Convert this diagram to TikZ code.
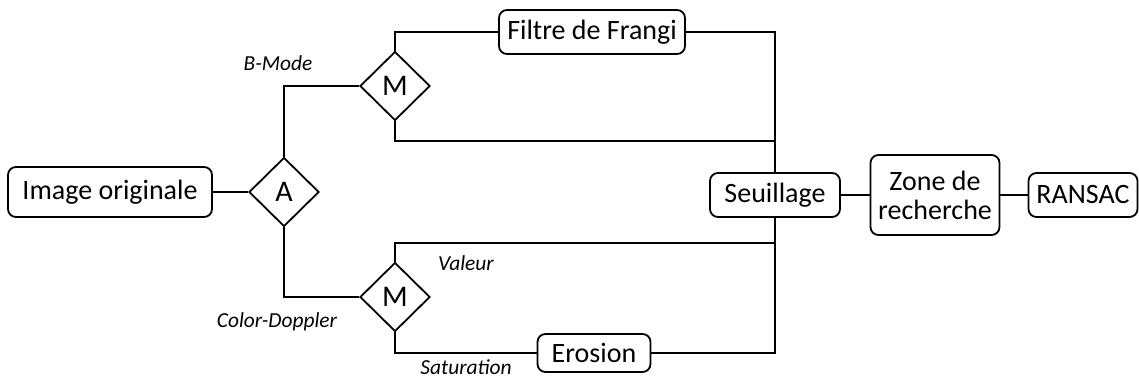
\documentclass[tikz,border=0pt]{standalone}
\usepackage{fontspec}
\setmainfont{Carlito}
\usetikzlibrary{shapes.geometric}
\tikzset{wire/.style={line width=1.1pt},
  proc/.style={draw, line width=0.9pt, rounded corners=4pt, fill=white, inner sep=2pt, align=center, font=\fontsize{14}{14.5}\selectfont},
  dec/.style={draw, diamond, line width=0.9pt, aspect=1, inner sep=0pt, minimum width=35pt, minimum height=34.5pt, font=\fontsize{15}{16}\selectfont},
  lbl/.style={font=\fontsize{10.7}{12}\selectfont\itshape, inner sep=0pt}}

\begin{document}
\begin{tikzpicture}[x=0.5pt,y=-0.5pt]
  \useasboundingbox (0,0) rectangle (1139,385);
  % blocs
  \node[proc, minimum width=102pt, minimum height=25pt] (img) at (110,192) {Image originale};
  \node[dec] (A) at (284,192) {A};
  \node[dec] (M1) at (395,86) {M};
  \node[dec] (M2) at (395,297) {M};
  \node[proc, minimum width=93pt, minimum height=22pt] (frangi) at (592,32) {Filtre de Frangi};
  \node[proc, minimum width=56.5pt, minimum height=19pt] (erosion) at (594,353) {Erosion};
  \node[proc, minimum width=65pt, minimum height=22pt] (seuil) at (775,195) {Seuillage};
  \node[proc, minimum width=64.5pt, minimum height=40pt] (zone) at (935,195) {Zone de\\recherche};
  \node[proc, minimum width=54.5pt, minimum height=22pt] (ransac) at (1083,195) {RANSAC};
  \coordinate (j1) at (775,141);
  \coordinate (j2) at (775,243);
  % liaisons
  \draw[wire] (img.east) -- (A.west);
  \draw[wire] (A.north) |- (M1.west);
  \draw[wire] (A.south) |- (M2.west);
  \draw[wire] (M1.north) |- (frangi.west);
  \draw[wire] (frangi.east) -| (seuil.north);
  \draw[wire] (M1.south) |- (j1);
  \draw[wire] (M2.north) |- (j2);
  \draw[wire] (M2.south) |- (erosion.west);
  \draw[wire] (erosion.east) -| (seuil.south);
  \draw[wire] (seuil.east) -- (zone.west);
  \draw[wire] (zone.east) -- (ransac.west);
  % etiquettes
  \node[lbl] (bmode) at (278,63) {B-Mode};
  \node[lbl] (cdop) at (277,322) {Color-Doppler};
  \node[lbl] (val) at (466,263) {Valeur};
  \node[lbl] (sat) at (466,367) {Saturation};
\end{tikzpicture}
\end{document}
